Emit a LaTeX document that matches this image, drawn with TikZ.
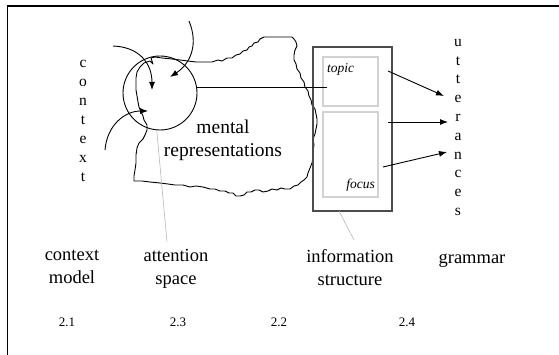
\documentclass[tikz,border=0pt]{standalone}
\usepackage{fontspec}
\setmainfont{Liberation Serif}
\usetikzlibrary{arrows.meta,positioning}

\tikzset{
  flow/.style={-{Latex[length=8pt,width=6pt]}, line width=0.9pt},
  vword/.style={font=\fontsize{15.5}{18.8}\selectfont, align=center, inner sep=0pt},
  partname/.style={font=\fontsize{18.5}{23}\selectfont, align=center, inner sep=0pt},
  secnum/.style={font=\fontsize{13}{15}\selectfont, inner sep=0pt},
  pointer/.style={gray!55, line width=0.6pt},
  subbox/.style={draw=gray!35, line width=2.2pt, minimum width=55pt, inner sep=0pt},
}

\begin{document}
\begin{tikzpicture}[x=1pt,y=-1pt]
\useasboundingbox (0,0) rectangle (559,355);
% frame
\draw[line width=1.5pt] (7.5,355) -- (7.5,6) -- (559,6);

% mental representations (blob)
\draw[line width=0.9pt, line join=round] (162,58) -- (172,59) -- (180,60) -- (188,61) -- (196,62)
  -- (204,62) -- (212,62) -- (218,60) -- (222,61) -- (227,58) -- (232,58) -- (236,55)
  -- (240,54) -- (243,51) -- (247,50) -- (249,47) -- (252,46) -- (254,43) -- (258,42)
  -- (260,39) -- (264,37) -- (270,37) -- (278,37) -- (286,37) -- (292,37) -- (294,39)
  -- (296,42) -- (297,46) -- (295,50) -- (294,55) -- (294,60) -- (296,64) -- (297,69)
  -- (300,73) -- (301,78) -- (304,82) -- (305,87) -- (308,91) -- (309,96) -- (311,100)
  -- (312,105) -- (315,109) -- (316,114) -- (317,119) -- (317,124) -- (316,129)
  -- (315,134) -- (313,139) -- (314,145) -- (313,151) -- (313,157) -- (312,163)
  -- (310,168) -- (308,173) -- (307,177) -- (304,180) -- (301,182) -- (298,185)
  -- (294,186) -- (290,189) -- (285,189) -- (281,188) -- (277,190) -- (272,189)
  -- (268,191) -- (263,192) -- (259,190) -- (255,190) -- (251,192) -- (247,192)
  -- (244,195) -- (240,196) -- (236,196) -- (233,193) -- (229,193) -- (225,191)
  -- (220,191) -- (215,189) -- (210,189) -- (203,187) -- (196,186) -- (190,187)
  -- (183,185) -- (175,185) -- (168,184) -- (160,183) -- (150,182) -- (142,181)
  -- (134,181) -- (134,176) -- (135,170) -- (136,163) -- (136,155) -- (137,148)
  -- (139,143) -- (143,139) -- (145,135) -- (147,130) -- (147,125) -- (144,120)
  -- (143,116) -- (141,112) -- (139,107) -- (138,102) -- (137,96) -- (136,90)
  -- (136,84) -- (136,78) -- (137,72) -- (140,67) -- (144,63) -- (150,61)
  -- (153,64) -- (151,58) -- (155,57) -- cycle;
\node[font=\fontsize{19.5}{23}\selectfont, align=center, inner sep=0pt] (mental) at (223,140) {mental\\representations};

% attention space
\node[circle, draw, line width=0.9pt, minimum size=74pt, inner sep=0pt] (attn) at (160,93) {};

% information structure
\node[draw=gray!60!black, line width=1.3pt, minimum width=79pt, minimum height=164pt, inner sep=0pt] (info) at (352.5,129) {};
\node[subbox, minimum height=49pt] (topic) at (350.5,81.5) {};
\node[subbox, minimum height=85pt] (focus) at (350.5,154.5) {};
\node[font=\itshape\fontsize{13.5}{15}\selectfont, inner sep=0pt, below right=7pt and 5pt of topic.north west] (topictxt) {topic};
\node[font=\itshape\fontsize{13.5}{15}\selectfont, inner sep=0pt, above left=7pt and 4pt of focus.south east] (focustxt) {focus};

% vertical words
\node[vword, anchor=north, font=\fontsize{15.5}{19}\selectfont] (ctx) at (83,59.5) {c\\o\\n\\t\\e\\x\\t};
\node[vword, anchor=north] (utt) at (458,39) {u\\t\\t\\e\\r\\a\\n\\c\\e\\s};

% context arrows into the attention space
\coordinate (cin1) at (189,21);
\coordinate (cin2) at (113,46);
\coordinate (cin3) at (105,150);
\draw[flow] (cin1) .. controls (199,45) and (190,64) .. (170,77);
\draw[flow] (cin2) .. controls (140,47) and (152,64) .. (152,90);
\draw[flow] (cin3) .. controls (107,125) and (125,111) .. (148,111);

% attention space -> topic
\coordinate (topicin) at (327,87);
\draw[line width=0.9pt] (attn.9) -- (attn.9 -| topicin);

% information structure -> utterances
\coordinate (out1) at (388,71);
\coordinate (out2) at (388,122);
\coordinate (out3) at (383,167);
\coordinate (utt1) at (444,96);
\coordinate (utt2) at (448,122);
\coordinate (utt3) at (447,152);
\draw[flow] (out1) -- (utt1);
\draw[flow] (out2) -- (utt2);
\draw[flow] (out3) -- (utt3);

% part names
\node[partname, anchor=north] (ctxmodel) at (72,250) {context\\model};
\node[partname, anchor=north] (attnspace) at (176,249) {attention\\space};
\node[partname, anchor=north] (infostruct) at (350,249) {information\\structure};
\node[partname, anchor=base] (gram) at (472,263) {grammar};

% pointers
\coordinate (attnlbl) at (167,242);
\coordinate (infobot) at (339,211);
\coordinate (infolbl) at (354,240);
\draw[pointer] (attn.265) -- (attnlbl);
\draw[pointer] (infobot) -- (infolbl);

% section numbers
\node[secnum, anchor=base] (s21) at (67,326) {2.1};
\node[secnum, anchor=base] (s23) at (178,326) {2.3};
\node[secnum, anchor=base] (s22) at (279,326) {2.2};
\node[secnum, anchor=base] (s24) at (407,326) {2.4};
\end{tikzpicture}
\end{document}
